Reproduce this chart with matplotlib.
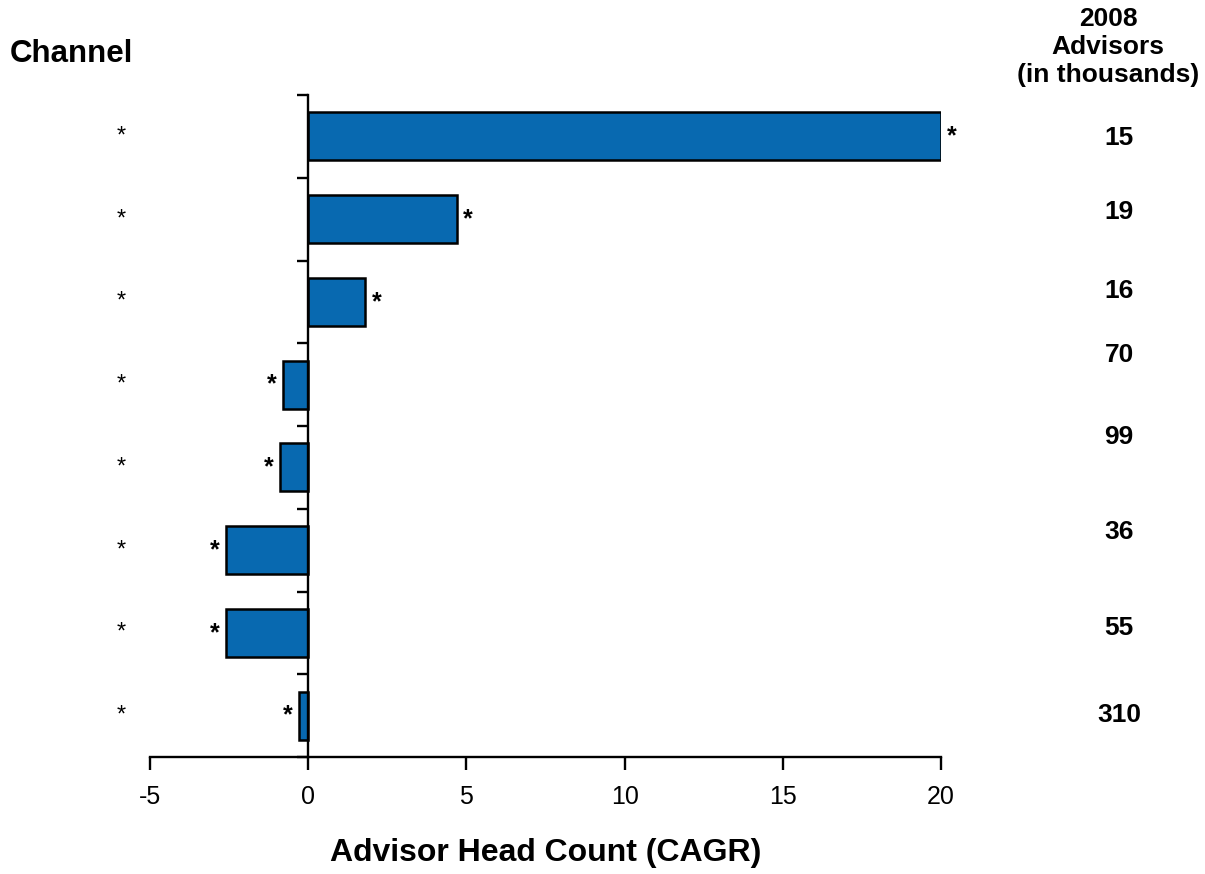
import matplotlib
matplotlib.use("Agg")
import matplotlib.pyplot as plt
from matplotlib.transforms import blended_transform_factory

plt.rcParams['font.family'] = ['Liberation Sans', 'DejaVu Sans']

# Data
channels = ["*", "*", "*", "*", "*", "*", "*", "*"]
cagr = [20.0, 4.7, 1.8, -0.8, -0.9, -2.6, -2.6, -0.3]
advisors_2008 = ["15", "19", "16", "70", "99", "36", "55", "310"]
x_ticks = [-5, 0, 5, 10, 15, 20]

# Layout: vertical placement (figure pixels from top) of the right-hand column
right_label_y_px = [138, 212, 291, 355, 437, 532, 628, 715]

W, H = 1205, 874
fig = plt.figure(figsize=(W / 100, H / 100), dpi=100)
ax = fig.add_axes([150 / W, 1 - 757 / H, (941 - 150) / W, (757 - 95) / H])

bar_color = '#0869B0'
ypos = list(range(len(cagr)))
ax.barh(ypos, cagr, height=0.58, color=bar_color, edgecolor='black', linewidth=1.8, zorder=2)

ax.set_xlim(-5, 20)
ax.set_ylim(len(cagr) - 0.5, -0.5)

for s in ['top', 'right']:
    ax.spines[s].set_visible(False)
ax.spines['left'].set_position(('data', 0))
ax.spines['left'].set_linewidth(1.7)
ax.spines['left'].set_zorder(3)
ax.spines['bottom'].set_linewidth(1.7)

ax.set_xticks(x_ticks)
ax.set_xticklabels([str(t) for t in x_ticks])
ax.tick_params(axis='x', direction='out', length=9, width=1.7, labelsize=18, pad=11)
ax.set_yticks([i - 0.5 for i in range(len(cagr) + 1)])
ax.set_yticklabels([])
ax.tick_params(axis='y', direction='out', length=8, width=1.7)

# Asterisk markers at bar ends
for y, v in zip(ypos, cagr):
    if v >= 0:
        ax.text(v + 0.2, y, "*", ha='left', va='center', fontsize=18, fontweight='bold')
    else:
        ax.text(v - 0.2, y, "*", ha='right', va='center', fontsize=18, fontweight='bold')

# Channel labels on the left
tr = blended_transform_factory(fig.transFigure, ax.transData)
for y, c in zip(ypos, channels):
    ax.text(121 / W, y, c, transform=tr, ha='center', va='center', fontsize=17)

# Right-hand column of 2008 advisor counts
for lab, py in zip(advisors_2008, right_label_y_px):
    fig.text(1119 / W, 1 - py / H, lab, ha='center', va='center', fontsize=19, fontweight='bold')

fig.text(1108 / W, 1 - 47 / H, "2008\nAdvisors\n(in thousands)", ha='center', va='center',
         fontsize=19, fontweight='bold', linespacing=1.2)
fig.text(10 / W, 1 - 54 / H, "Channel", ha='left', va='center', fontsize=22.5, fontweight='bold')

ax.set_xlabel("Advisor Head Count (CAGR)", fontsize=23, fontweight='bold', labelpad=21)

fig.savefig("out.png", dpi=100)
